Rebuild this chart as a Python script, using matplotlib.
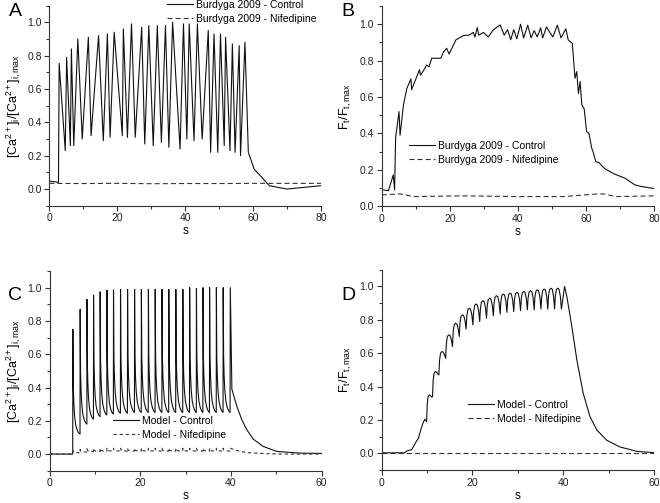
import matplotlib
matplotlib.use("Agg")
import matplotlib.pyplot as plt
import numpy as np

plt.rcParams['font.family'] = ['Liberation Sans', 'DejaVu Sans']
plt.rcParams['mathtext.default'] = 'regular'

# ---- A: Burdyga 2009 calcium
a_ctrl_t = [0, 2.7, 2.9, 4.7, 5.1, 6.2, 6.5, 7.2, 8.4, 9.7, 11.5, 12.3, 14.5, 15.9, 17.1, 17.9,
            19.1, 21.5, 21.8, 23.0, 24.2, 25.3, 27.2, 28.1, 29.3, 30.6, 31.8, 33.0, 34.2, 35.2,
            36.3, 38.5, 39.5, 40.5, 41.2, 42.6, 43.6, 45.0, 46.8, 47.5, 48.5, 49.6, 50.4, 51.5,
            51.9, 53.2, 53.9, 54.7, 55.9, 56.3, 57.6, 58.6, 60.3, 64.8, 69.9, 80]
a_ctrl_y = [0.048, 0.04, 0.754, 0.23, 0.79, 0.26, 0.84, 0.26, 0.90, 0.30, 0.91, 0.32, 0.92, 0.29,
            0.93, 0.31, 0.94, 0.32, 0.96, 0.31, 0.99, 0.31, 0.97, 0.27, 0.98, 0.26, 0.98, 0.28,
            0.98, 0.25, 1.0, 0.24, 0.99, 0.30, 0.99, 0.29, 0.99, 0.30, 0.95, 0.22, 0.93, 0.22,
            0.93, 0.26, 0.91, 0.23, 0.87, 0.22, 0.86, 0.20, 0.88, 0.22, 0.12, 0.02, 0.0, 0.02]
a_nif_t = [0, 10, 20, 30, 40, 50, 60, 70, 80]
a_nif_y = [0.034, 0.033, 0.034, 0.032, 0.033, 0.033, 0.034, 0.034, 0.034]

# ---- B: Burdyga 2009 force
b_ctrl_t = [0, 2.0, 3.4, 3.8, 4.1, 5.1, 5.4, 6.4, 7.4, 8.6, 8.8, 11.1, 11.4, 12.7, 13.2, 13.9,
            14.7, 17.4, 18.1, 19.1, 19.8, 21.1, 21.8, 24.0, 25.7, 26.9, 27.4, 28.1, 28.5, 29.9,
            31.3, 32.8, 34.8, 36.0, 37.0, 37.9, 38.8, 39.7, 40.8, 41.7, 42.9, 43.9, 44.8, 45.7,
            46.7, 47.3, 48.4, 49.4, 50.3, 51.6, 52.7, 54.1, 54.8, 56.0, 56.8, 57.3, 57.8, 58.3,
            58.8, 59.5, 60.2, 60.9, 61.7, 62.2, 62.9, 63.8, 65.6, 68.5, 71.5, 74.4, 76.4, 80]
b_ctrl_y = [0.09, 0.086, 0.172, 0.09, 0.38, 0.52, 0.39, 0.557, 0.648, 0.70, 0.64, 0.75, 0.72,
            0.758, 0.776, 0.766, 0.813, 0.813, 0.846, 0.868, 0.836, 0.886, 0.914, 0.938, 0.94,
            0.955, 0.93, 0.982, 0.94, 0.955, 0.93, 0.969, 0.996, 0.94, 0.97, 0.915, 0.97, 0.92,
            1.0, 0.925, 0.995, 0.925, 0.965, 0.93, 0.98, 0.925, 0.985, 0.955, 0.93, 0.995, 0.925,
            0.975, 0.914, 0.895, 0.703, 0.74, 0.62, 0.685, 0.557, 0.535, 0.41, 0.40, 0.319, 0.293,
            0.245, 0.24, 0.205, 0.176, 0.154, 0.117, 0.108, 0.097]
b_nif_t = [0, 5.4, 9.3, 24, 39.7, 53.4, 62.2, 65, 69, 80]
b_nif_y = [0.062, 0.068, 0.053, 0.057, 0.053, 0.053, 0.066, 0.068, 0.053, 0.057]

# ---- C: model calcium, one spike per listed time
c_spike_t = [5.08, 6.69, 8.2, 9.65, 11.1, 12.6, 14.05, 15.6, 17.15, 18.7, 20.2, 21.75, 23.25,
             24.75, 26.25, 27.8, 29.35, 30.85, 32.35, 33.8, 35.25, 36.75, 38.25, 39.8]
c_peak = [0.75, 0.87, 0.93, 0.955, 0.975, 0.985, 0.985, 0.99, 0.99, 0.99, 0.99, 0.99, 0.99,
          0.99, 0.99, 0.99, 0.99, 1.0, 0.995, 1.0, 1.0, 1.0, 1.0, 1.0]
c_trough = [0.12, 0.18, 0.21, 0.225, 0.235, 0.24, 0.245, 0.245, 0.25, 0.25, 0.25, 0.25, 0.25,
            0.25, 0.25, 0.25, 0.25, 0.25, 0.25, 0.25, 0.25, 0.25, 0.25]
c_tail_t = [40.2, 41.3, 42.4, 43.5, 44.9, 47.1, 50.1, 55, 60]
c_tail_y = [0.39, 0.286, 0.206, 0.146, 0.09, 0.046, 0.016, 0.006, 0.004]
c_nif_peak = [0.02, 0.028, 0.032, 0.034, 0.035, 0.035, 0.035, 0.035, 0.035, 0.035, 0.035, 0.035,
              0.035, 0.035, 0.035, 0.035, 0.035, 0.035, 0.035, 0.035, 0.035, 0.035, 0.035, 0.035]
c_nif_trough = [0.008, 0.012, 0.015, 0.016, 0.017, 0.018, 0.018, 0.018, 0.018, 0.018, 0.018,
                0.018, 0.018, 0.018, 0.018, 0.018, 0.018, 0.018, 0.018, 0.018, 0.018, 0.018, 0.018]
c_nif_tail_t = [40.6, 42, 44, 48, 52, 60]
c_nif_tail_y = [0.028, 0.016, 0.008, 0.002, 0.0, 0.0]
# decay profile of one spike (fraction of period, fraction of peak-trough height)
spike_f = [0.0, 0.02, 0.08, 0.15, 0.25, 0.4, 0.6, 0.8, 1.0]
spike_h = [0.0, 1.0, 0.45, 0.3, 0.18, 0.09, 0.04, 0.012, 0.0]

# ---- D: model force, arches between cusps
d_start_t = [0, 5.1, 5.6, 6.6, 7.1, 7.7, 8.1, 8.6, 9.1, 9.5]
d_start_y = [0.003, 0.003, 0.015, 0.022, 0.045, 0.075, 0.09, 0.14, 0.18, 0.205]
d_cusp_t = [9.9, 11.2, 12.6, 14.1, 15.6, 17.1, 18.6, 20.1, 21.6, 23.1, 24.6, 26.1, 27.6, 29.1,
            30.6, 32.1, 33.6, 35.1, 36.6, 38.1, 39.6]
d_cusp_y = [0.19, 0.34, 0.47, 0.57, 0.64, 0.70, 0.745, 0.77, 0.79, 0.81, 0.825, 0.835, 0.845,
            0.85, 0.855, 0.86, 0.86, 0.865, 0.865, 0.865, 0.865]
d_arch_y = [0.35, 0.49, 0.61, 0.71, 0.78, 0.83, 0.87, 0.895, 0.915, 0.93, 0.945, 0.955, 0.96,
            0.965, 0.97, 0.975, 0.98, 0.985, 0.99, 0.99]
d_tail_t = [40.3, 40.8, 41.9, 43.0, 44.4, 45.9, 47.4, 49.6, 52.5, 56.2, 60]
d_tail_y = [1.0, 0.94, 0.76, 0.56, 0.36, 0.22, 0.14, 0.078, 0.038, 0.012, 0.004]
d_nif_t = [0, 60]
d_nif_y = [0.0, 0.0]
arch_f = [0.0, 0.1, 0.25, 0.45, 0.65, 0.85, 1.0]
arch_w = [0.0, 0.6, 0.92, 1.0, 0.95, 0.6, 0.0]


def spikes(times, peaks, troughs, base):
    t, y = [0, times[0]], [base, base]
    for k, t0 in enumerate(times):
        lo_prev = base if k == 0 else troughs[k - 1]
        if k == len(times) - 1:
            t += [t0, t0 + 0.05]
            y += [lo_prev, peaks[k]]
            break
        period = times[k + 1] - t0
        lo = troughs[k]
        for f, h in zip(spike_f, spike_h):
            t.append(t0 + f * period)
            y.append(lo + h * (peaks[k] - lo) if f > 0 else lo_prev)
    return t, y


def arches(ct, cy, py):
    t, y = [], []
    for k in range(len(ct) - 1):
        for f, w in zip(arch_f[:-1], arch_w[:-1]):
            b = cy[k] + (cy[k + 1] - cy[k]) * f
            t.append(ct[k] + (ct[k + 1] - ct[k]) * f)
            y.append(b + (py[k] - b) * w)
    t.append(ct[-1]); y.append(cy[-1])
    return t, y


fig = plt.figure(figsize=(6.6, 5.03), dpi=100)
axA = fig.add_axes([0.0747, 0.591, 0.4117, 0.398])
axB = fig.add_axes([0.5783, 0.590, 0.4126, 0.398])
axC = fig.add_axes([0.0753, 0.0642, 0.412, 0.397])
axD = fig.add_axes([0.5783, 0.0656, 0.4126, 0.398])

lw = 0.8
dash = (0, (4.5, 2.8))

axA.plot(a_ctrl_t, a_ctrl_y, color='#111111', lw=lw, label='Burdyga 2009 - Control')
axA.plot(a_nif_t, a_nif_y, color='#333333', lw=lw, ls=dash, label='Burdyga 2009 - Nifedipine')
axB.plot(b_ctrl_t, b_ctrl_y, color='#111111', lw=lw, label='Burdyga 2009 - Control')
axB.plot(b_nif_t, b_nif_y, color='#333333', lw=lw, ls=dash, label='Burdyga 2009 - Nifedipine')

ct, cy = spikes(c_spike_t, c_peak, c_trough, 0.0)
axC.plot(ct + c_tail_t, cy + c_tail_y, color='#111111', lw=lw, label='Model - Control')
nt, ny = spikes(c_spike_t, c_nif_peak, c_nif_trough, 0.0)
axC.plot(nt + c_nif_tail_t, ny + c_nif_tail_y, color='#333333', lw=lw, ls=(0, (3, 2.5)),
         label='Model - Nifedipine')

dt, dy = arches(d_cusp_t, d_cusp_y, d_arch_y)
axD.plot(d_start_t + dt + d_tail_t, d_start_y + dy + d_tail_y, color='#111111', lw=lw,
         label='Model - Control')
axD.plot(d_nif_t, d_nif_y, color='#333333', lw=lw, ls=dash, label='Model - Nifedipine')

for ax, xmax, ymin in [(axA, 80, -0.1), (axB, 80, 0.0), (axC, 60, -0.1), (axD, 60, -0.1)]:
    ax.set_xlim(0, xmax)
    ax.set_ylim(ymin, 1.1)
    ax.set_xticks(np.arange(0, xmax + 1, 20))
    ax.set_xticks(np.arange(10, xmax, 20), minor=True)
    ax.set_yticks(np.arange(0, 1.01, 0.2))
    ax.set_yticks(np.arange(0.1 if ymin == 0 else -0.1, 1.11, 0.2), minor=True)
    ax.set_yticklabels(['%.1f' % v for v in np.arange(0, 1.01, 0.2)])
    ax.spines['top'].set_visible(False)
    ax.spines['right'].set_visible(False)
    for s in ['left', 'bottom']:
        ax.spines[s].set_linewidth(0.8)
        ax.spines[s].set_color('#333333')
    ax.tick_params(which='major', direction='out', length=3.5, width=0.8, labelsize=7.5,
                   colors='#333333', labelcolor='#222222', pad=2)
    ax.tick_params(which='minor', direction='out', length=2, width=0.8, colors='#333333')
    ax.set_xlabel('s', fontsize=8.5, labelpad=1.5)

ca_label = r'[Ca$^{2+}$]$_i$/[Ca$^{2+}$]$_{i,max}$'
f_label = r'F$_t$/F$_{t,max}$'
axA.set_ylabel(ca_label, fontsize=9, labelpad=3)
axC.set_ylabel(ca_label, fontsize=9, labelpad=3)
axB.set_ylabel(f_label, fontsize=9, labelpad=4)
axD.set_ylabel(f_label, fontsize=9, labelpad=4)

leg_kw = dict(frameon=False, fontsize=7.5, handlelength=2.5, handletextpad=0.25,
              borderpad=0, borderaxespad=0, labelspacing=0.35, loc='upper left',
              bbox_transform=fig.transFigure)
axA.legend(bbox_to_anchor=(167 / 660, 1 - 0 / 503), **leg_kw)
axB.legend(bbox_to_anchor=(409 / 660, 1 - 141 / 503), **leg_kw)
axC.legend(bbox_to_anchor=(113 / 660, 1 - 416 / 503), **leg_kw)
axD.legend(bbox_to_anchor=(468 / 660, 1 - 400 / 503), **leg_kw)

for lab, x, y in [('A', 15, 12), ('B', 348, 11), ('C', 15, 295), ('D', 348, 295)]:
    fig.text(x / 660, 1 - y / 503, lab, fontsize=14, ha='center', va='center')

fig.savefig('out.png', dpi=100)
